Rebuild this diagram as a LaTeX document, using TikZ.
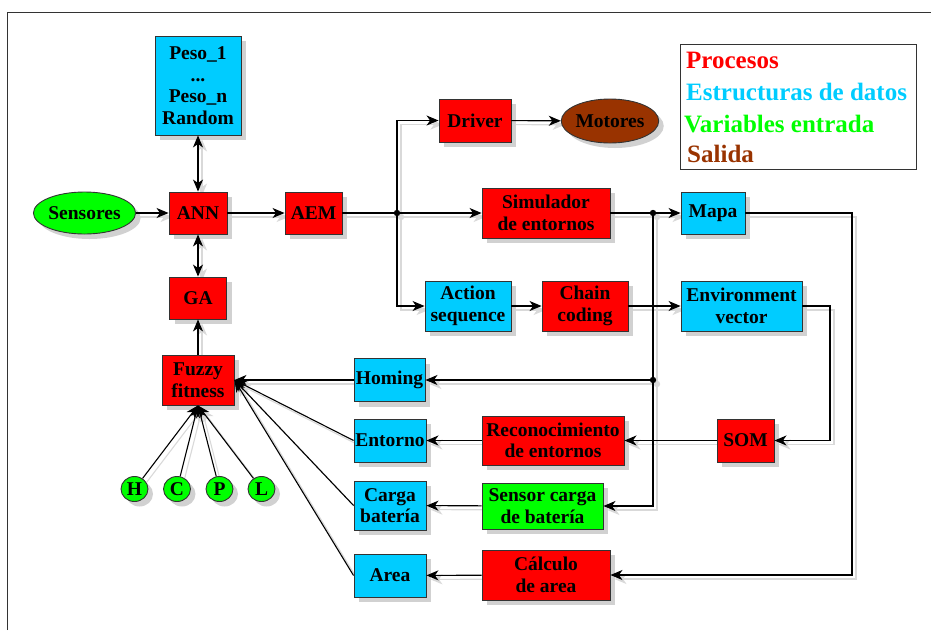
\documentclass[tikz,border=0pt]{standalone}
\usepackage{fontspec}
\setmainfont{Liberation Serif}
\usetikzlibrary{arrows.meta,shapes.geometric,shadows}
\definecolor{cproc}{HTML}{FF0000}
\definecolor{cdata}{HTML}{00CCFF}
\definecolor{cvar}{HTML}{00FF00}
\definecolor{cout}{HTML}{993300}
\pgfdeclarelayer{lsh}
\pgfdeclarelayer{fg}
\pgfsetlayers{lsh,main,fg}
\newcommand\myedges{%
  \draw[ar] (sens) -- (ann);
  \draw[ar2] (peso) -- (ann);
  \draw[ar2] (ann) -- (ga);
  \draw[ar] (fuzzy) -- (ga);
  \draw[ar] (ann) -- (aem);
  \draw[ln] (aem) -- (j1);
  \draw[ar] (j1) -- (sim);
  \draw[ar] (j1) |- (driver);
  \draw[ar] (j1) |- (action);
  \draw[ar] (driver) -- (motores);
  \draw[ln] (sim) -- (j2);
  \draw[ar] (j2) -- (mapa);
  \draw[ln] (j2) -- (j3);
  \draw[ar] (j3) -- (homing);
  \draw[ar] (j3) |- (sensor);
  \draw[ar] (action) -- (chain);
  \draw[ar] (chain) -- (env);
  \draw[ar] (env) -- (e1) |- (som);
  \draw[ar] (som) -- (recon);
  \draw[ar] (recon) -- (entorno);
  \draw[ar] (sensor) -- (carga);
  \draw[ar] (mapa) -- (m1) |- (calc);
  \draw[ar] (calc) -- (area);
  \draw[ar] (homing) -- (fuzzy.east);
  \draw[ar] (entorno.west) -- (fuzzy.east);
  \draw[ar] (carga.west) -- (fuzzy.east);
  \draw[ar] (area.west) -- (fuzzy.east);
  \draw[ar] (h) -- (fuzzy.south);
  \draw[ar] (c) -- (fuzzy.south);
  \draw[ar] (p) -- (fuzzy.south);
  \draw[ar] (l) -- (fuzzy.south);
  \fill (j1) circle (3.2);
  \fill (j2) circle (3.2);
  \fill (j3) circle (3.2);
}
\begin{document}
\begin{tikzpicture}[x=1pt,y=-1pt,
  base/.style={draw=black!80, line width=0.9pt, align=center, inner sep=1pt,
    font=\fontsize{19.5}{21.5}\selectfont\bfseries,
    drop shadow={shadow xshift=5pt, shadow yshift=-5pt, fill=black!18, opacity=1}},
  proc/.style={base, rectangle, fill=cproc},
  data/.style={base, rectangle, fill=cdata},
  var/.style={base, rectangle, fill=cvar},
  varell/.style={base, ellipse, fill=cvar, inner sep=0pt},
  outell/.style={base, ellipse, fill=cout, inner sep=0pt},
  ln/.style={line width=1.1pt},
  ar/.style={ln, -{Stealth[length=12pt,width=10pt,inset=3.5pt]}},
  ar2/.style={ln, {Stealth[length=12pt,width=10pt,inset=3.5pt]}-{Stealth[length=12pt,width=10pt,inset=3.5pt]}},
  leg/.style={anchor=west, inner sep=0pt, font=\fontsize{25}{28}\selectfont\bfseries}
]
\useasboundingbox (0,0) rectangle (931,630);
\draw[line width=1pt, black!80] (7,630) -- (7,12) -- (931,12);

% legend
\node[draw=black!80, line width=1pt, minimum width=236, minimum height=125, inner sep=0pt] (legend) at (798,106.5) {};
\node[leg, text=cproc] (lp) at (686,60) {Procesos};
\node[leg, text=cdata] (ld) at (686,92) {Estructuras de datos};
\node[leg, text=cvar] (lv) at (684,124) {Variables entrada};
\node[leg, text=cout] (ls) at (687,154) {Salida};

% nodes
\node[data, minimum width=86, minimum height=99] (peso) at (198,85.5) {Peso\_1\\...\\Peso\_n\\Random};
\node[proc, minimum width=58, minimum height=42] (ann) at (198,213) {ANN};
\node[proc, minimum width=57, minimum height=42] (aem) at (313.5,213) {AEM};
\node[varell, minimum width=85, minimum height=42] (sens) at (84.5,213) {Sensores};
\node[proc, minimum width=57, minimum height=42] (ga) at (198,298) {GA};
\node[proc, minimum width=72, minimum height=50] (fuzzy) at (198,380) {Fuzzy\\fitness};
\node[varell, minimum width=27, minimum height=25] (h) at (134.5,489) {H};
\node[varell, minimum width=27, minimum height=25] (c) at (177,489) {C};
\node[varell, minimum width=27, minimum height=25] (p) at (219.5,489) {P};
\node[varell, minimum width=27, minimum height=25] (l) at (261.5,489) {L};
\node[proc, minimum width=72, minimum height=43] (driver) at (475,120.5) {Driver};
\node[outell, minimum width=86, minimum height=44] (motores) at (610,121) {Motores};
\node[proc, minimum width=128, minimum height=50] (sim) at (546,213) {Simulador\\de entornos};
\node[data, minimum width=64, minimum height=42] (mapa) at (713,213) {Mapa};
\node[data, minimum width=86, minimum height=50] (action) at (468,306) {Action\\sequence};
\node[proc, minimum width=86, minimum height=50] (chain) at (585,306) {Chain\\coding};
\node[data, minimum width=121, minimum height=50] (env) at (741.5,306) {Environment\\vector};
\node[proc, minimum width=57, minimum height=43] (som) at (745.5,440.5) {SOM};
\node[data, minimum width=71, minimum height=43] (homing) at (389.5,380) {Homing};
\node[proc, minimum width=142, minimum height=49] (recon) at (553,440.5) {Reconocimiento\\de entornos};
\node[data, minimum width=72, minimum height=43] (entorno) at (390,440.5) {Entorno};
\node[data, minimum width=72, minimum height=49] (carga) at (390,505.5) {Carga\\batería};
\node[var, minimum width=121, minimum height=46] (sensor) at (542.5,506) {Sensor carga\\de batería};
\node[data, minimum width=72, minimum height=43] (area) at (390,575.5) {Area};
\node[proc, minimum width=128, minimum height=50] (calc) at (546,575) {Cálculo\\de area};

\coordinate (j1) at (397,213);
\coordinate (j2) at (653,213);
\coordinate (j3) at (653,380);
\coordinate (e1) at (830,306);
\coordinate (m1) at (852,213);

\begin{pgfonlayer}{lsh}
\begin{scope}[color=black!15, transform canvas={shift={(4pt,-4pt)}}]
\myedges
\end{scope}
\end{pgfonlayer}
\begin{pgfonlayer}{fg}
\begin{scope}[color=black]
\myedges
\end{scope}
\end{pgfonlayer}
\end{tikzpicture}
\end{document}
